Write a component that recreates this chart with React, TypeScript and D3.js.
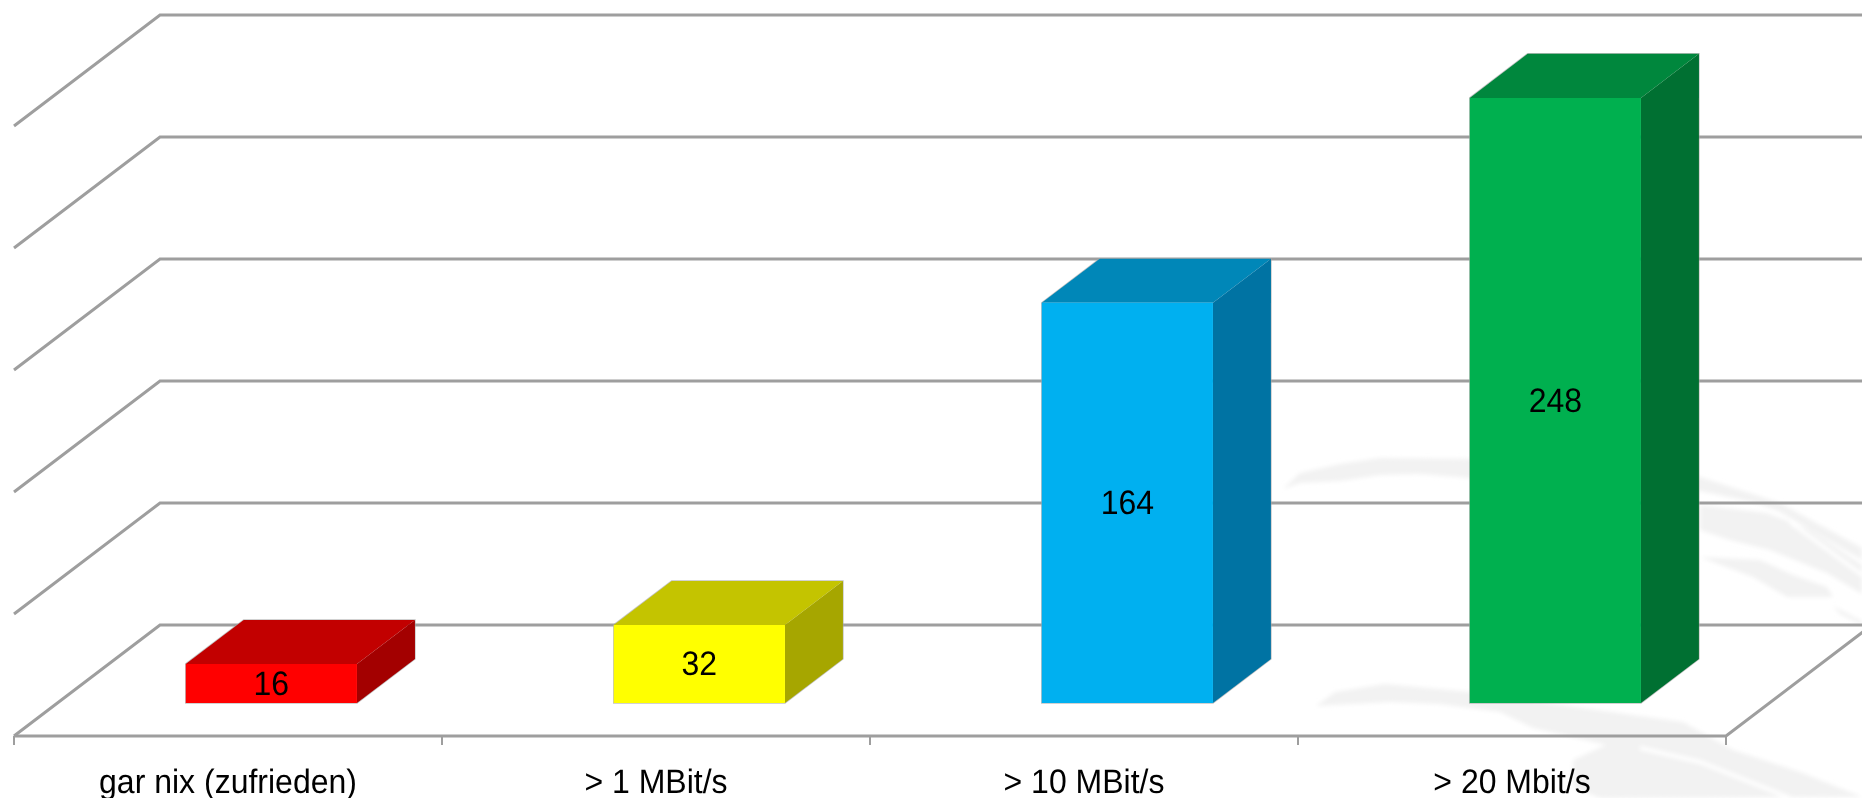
import * as d3 from "d3";
import { useEffect, useRef } from "react";

const WIDTH = 1862;
const HEIGHT = 798;

const CATEGORIES = ["gar nix (zufrieden)", "> 1 MBit/s", "> 10 MBit/s", "> 20 Mbit/s"];
const VALUES = [16, 32, 164, 248];
const FRONT_COLORS = ["#ff0000", "#ffff00", "#00b0f0", "#00b050"];
const TOP_COLORS = ["#c20000", "#c4c400", "#0087b8", "#00873d"];
const SIDE_COLORS = ["#a30000", "#a6a600", "#0073a3", "#007030"];
const GRID_VALUES = [0, 50, 100, 150, 200, 250];

// floor of the 3d box
const FLOOR = { left: 14, right: 1726, front: 736, dx: 146, dy: 111 };
const BAR_Z = [0.297, 0.694];
const GRID_COLOR = "#9e9e9e";
const FONT = "'Liberation Sans', Arial, sans-serif";

// faint logo behind the plot
const WATERMARK = [
  "M1283,489 L1300,473 L1340,464 L1380,458 L1475,459 L1700,477 L1780,503 L1862,548 L1862,560 L1780,512 L1757,503 L1700,491 L1470,478 L1420,474 L1380,475 L1340,481 L1300,483 Z",
  "M1700,505 L1767,513 L1810,530 L1862,565 L1862,594 L1827,573 L1770,550 L1730,540 L1700,530 Z",
  "M1700,557 L1760,560 L1793,575 L1827,587 L1833,597 L1787,597 L1753,577 Z",
  "M1833,606 L1862,621 L1862,625 L1840,614 Z",
  "M1316,706 L1335,692 L1385,684 L1471,692 L1568,706 L1683,722 L1733,750 L1800,772 L1862,797 L1600,798 L1573,787 L1573,760 L1606,745 L1533,728 L1500,712 L1440,704 L1390,702 Z",
];
const WATERMARK_CUTS = [
  "M1640,748 L1700,762 L1790,798",
  "M1790,522 L1862,575",
];

export default function App() {
  const svgRef = useRef<SVGSVGElement>(null);

  useEffect(() => {
    if (!svgRef.current) return;

    const svg = d3.select(svgRef.current);
    svg.selectAll("*").remove();

    const x = d3
      .scaleBand()
      .domain(CATEGORIES)
      .range([FLOOR.left, FLOOR.right])
      .paddingInner(0.6)
      .paddingOuter(0.3);

    // value -> height in pixels above the floor
    const h = d3.scaleLinear().domain([0, 250]).range([0, 610]);

    const px = (xv: number, z: number) => xv + FLOOR.dx * z;
    const py = (v: number, z: number) => FLOOR.front - FLOOR.dy * z - h(v);
    const line = d3.line();

    const defs = svg.append("defs");
    defs.append("filter").attr("id", "soft").append("feGaussianBlur").attr("stdDeviation", 2);
    defs.append("filter").attr("id", "edge").append("feGaussianBlur").attr("stdDeviation", 0.4);

    const wm = svg.append("g").attr("filter", "url(#soft)");
    wm.selectAll("path.logo")
      .data(WATERMARK)
      .enter()
      .append("path")
      .attr("class", "logo")
      .attr("d", (d) => d)
      .attr("fill", "#f2f2f2");
    wm.selectAll("path.cut")
      .data(WATERMARK_CUTS)
      .enter()
      .append("path")
      .attr("class", "cut")
      .attr("d", (d) => d)
      .attr("fill", "none")
      .attr("stroke", "#fff")
      .attr("stroke-width", 4);

    const root = svg.append("g").attr("filter", "url(#edge)");

    // walls: diagonal on the left side + horizontal on the back wall
    const grid = root.append("g").attr("fill", "none").attr("stroke", GRID_COLOR).attr("stroke-width", 3);
    GRID_VALUES.forEach((v) => {
      grid.append("path").attr("d", line([
        [px(FLOOR.left, 0), py(v, 0)],
        [px(FLOOR.left, 1), py(v, 1)],
        [px(FLOOR.right, 1), py(v, 1)],
      ]));
    });

    // floor edge + right diagonal
    grid.append("path").attr("d", line([
      [px(FLOOR.left, 0), py(0, 0)],
      [px(FLOOR.right, 0), py(0, 0)],
      [px(FLOOR.right, 1), py(0, 1)],
    ]));

    // ticks sit on the band edges
    d3.range(CATEGORIES.length + 1).forEach((i) => {
      const t = FLOOR.left + i * x.step();
      grid.append("path")
        .attr("stroke-width", 2)
        .attr("d", line([[t, FLOOR.front], [t, FLOOR.front + 9]]));
    });

    const w = x.bandwidth();
    const [z0, z1] = BAR_Z;

    // the source picture was stretched a bit, so text is slightly taller than wide
    const addText = (tx: number, ty: number, s: string | number) =>
      root.append("text")
        .attr("transform", `translate(${tx},${ty}) scale(1,1.06)`)
        .attr("text-anchor", "middle")
        .attr("font-family", FONT)
        .attr("font-size", 32)
        .attr("text-rendering", "geometricPrecision")
        .attr("fill", "#000")
        .text(s);

    CATEGORIES.forEach((c, i) => {
      const v = VALUES[i];
      const a = x(c)!;
      const b = a + w;
      const bar = root.append("g");

      // thin pale outline round the whole box
      bar.append("path")
        .attr("fill", "none")
        .attr("stroke", "#a8a8a8")
        .attr("stroke-opacity", 0.7)
        .attr("stroke-width", 1.5)
        .attr("d", line([
          [px(a, z0), py(0, z0)],
          [px(a, z0), py(v, z0)],
          [px(a, z1), py(v, z1)],
          [px(b, z1), py(v, z1)],
          [px(b, z1), py(0, z1)],
          [px(b, z0), py(0, z0)],
        ]) + "Z");
      // top
      bar.append("path").attr("fill", TOP_COLORS[i]).attr("d", line([
        [px(a, z0), py(v, z0)],
        [px(a, z1), py(v, z1)],
        [px(b, z1), py(v, z1)],
        [px(b, z0), py(v, z0)],
      ]) + "Z");
      // side
      bar.append("path").attr("fill", SIDE_COLORS[i]).attr("d", line([
        [px(b, z0), py(v, z0)],
        [px(b, z1), py(v, z1)],
        [px(b, z1), py(0, z1)],
        [px(b, z0), py(0, z0)],
      ]) + "Z");
      // front
      bar.append("path").attr("fill", FRONT_COLORS[i]).attr("d", line([
        [px(a, z0), py(v, z0)],
        [px(b, z0), py(v, z0)],
        [px(b, z0), py(0, z0)],
        [px(a, z0), py(0, z0)],
      ]) + "Z");

      // value label in the middle of the front face
      addText(px(a + w / 2, z0), py(v / 2, z0) + 11.5, v);
      // category label
      addText(a + w / 2, 793, c);
    });
  }, []);

  return (
    <svg
      ref={svgRef}
      width={WIDTH}
      height={HEIGHT}
      style={{ position: "absolute", left: 0, top: 0, display: "block", background: "#fff" }}
    ></svg>
  );
}
